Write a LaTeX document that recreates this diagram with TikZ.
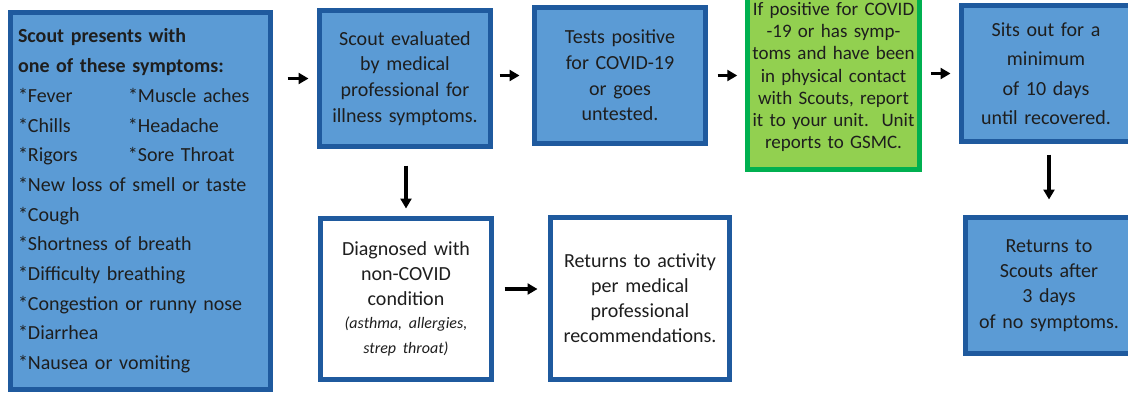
\documentclass[tikz,border=0pt]{standalone}
\usepackage{fontspec}
\setmainfont{Carlito}
\usepackage{tikz}
\usetikzlibrary{arrows.meta, positioning}

\definecolor{boxblue}{HTML}{5B9BD5}
\definecolor{edgeblue}{HTML}{1F5A9E}
\definecolor{boxgreen}{HTML}{92D050}
\definecolor{edgegreen}{HTML}{00B050}
\definecolor{inktext}{HTML}{1E1E1E}

\begin{document}
\begin{tikzpicture}[x=1pt, y=-1pt]
    \tikzstyle{bluebox} = [rectangle, draw=edgeblue, line width=5pt, fill=boxblue, text=inktext, align=center, inner sep=4pt]
    \tikzstyle{whitebox} = [rectangle, draw=edgeblue, line width=5pt, fill=white, text=inktext, align=center, inner sep=4pt]
    \tikzstyle{greenbox} = [rectangle, draw=edgegreen, line width=5.5pt, fill=boxgreen, text=inktext, align=center, inner sep=4pt]
    \tikzstyle{arrow} = [line width=3.5pt, -{Triangle[length=10pt,width=11pt]}]

    \useasboundingbox (0,0) rectangle (1128,394);

    \node (symptoms) [bluebox, align=left, text width=245pt, inner xsep=7.5pt, minimum height=377pt,
        font=\fontsize{20}{29.7}\selectfont] at (140.5,201)
        {\textbf{Scout presents with}\\
         \textbf{one of these symptoms:}\\
         \makebox[110pt][l]{*Fever}*Muscle aches\\
         \makebox[110pt][l]{*Chills}*Headache\\
         \makebox[110pt][l]{*Rigors}*Sore Throat\\
         {*}New loss of smell or taste\\
         {*}Cough\\
         {*}Shortness of breath\\
         {*}Difficulty breathing\\
         {*}Congestion or runny nose\\
         {*}Diarrhea\\
         {*}Nausea or vomiting};
    \node (evaluated) [bluebox, minimum width=171pt, minimum height=136pt, text width=162pt,
        font=\fontsize{20}{25.8}\selectfont] at (405,78.5)
        {Scout evaluated\\ by medical\\ professional for\\ illness symptoms.};
    \node (tests) [bluebox, minimum width=171pt, minimum height=136pt, text width=162pt,
        font=\fontsize{20}{25.7}\selectfont] at (620,75.5)
        {Tests positive\\ for COVID-19\\ or goes\\ untested.};
    \node (report) [greenbox, minimum width=172pt, minimum height=185pt, text width=164pt,
        font=\fontsize{19}{22.3}\selectfont] at (833.5,77)
        {If positive for COVID\\ -19 or has symp-\\ toms and have been\\ in physical contact\\ with Scouts, report\\ it to your unit.\ \ Unit\\ reports to GSMC.};
    \node (sitsout) [bluebox, minimum width=169pt, minimum height=136pt, text width=160pt,
        font=\fontsize{20}{29.5}\selectfont] at (1046,73.5)
        {Sits out for a\\ minimum\\ of 10 days\\ until recovered.};
    \node (diagnosed) [whitebox, minimum width=171pt, minimum height=161pt, text width=162pt,
        font=\fontsize{20}{25}\selectfont] at (406,299)
        {Diagnosed with\\ non-COVID\\ condition\\
         {\fontsize{16}{23}\selectfont\itshape (asthma, allergies,\\ strep throat)}};
    \node (activity) [whitebox, minimum width=179pt, minimum height=162pt, text width=170pt,
        font=\fontsize{20}{25}\selectfont] at (640,298.5)
        {Returns to activity\\ per medical\\ professional\\ recommendations.};
    \node (recovered) [bluebox, minimum width=167pt, minimum height=136pt, text width=160pt,
        font=\fontsize{20}{25.3}\selectfont] at (1049,285.5)
        {Returns to\\ Scouts after\\ 3 days\\ of no symptoms.};

    \draw [arrow, shorten <=14.5pt, shorten >=8.5pt] (symptoms.east |- evaluated.west) -- (evaluated.west);
    \draw [arrow, shorten <=6.5pt, shorten >=12.5pt] (evaluated.east |- tests.west) -- (tests.west);
    \draw [arrow, shorten <=9.5pt, shorten >=7.5pt] (tests.east) -- (tests.east -| report.west);
    \draw [arrow, shorten <=8.5pt, shorten >=8.5pt] (report.east |- sitsout.west) -- (sitsout.west);
    \draw [arrow, shorten <=16.5pt, shorten >=7.5pt] (diagnosed.north |- evaluated.south) -- (diagnosed.north);
    \draw [arrow, shorten <=10.5pt, shorten >=10.5pt] ([yshift=10pt]diagnosed.east) -- ([yshift=10pt]diagnosed.east -| activity.west);
    \draw [arrow, shorten <=10.5pt, shorten >=15.5pt] (recovered.north |- sitsout.south) -- (recovered.north);
\end{tikzpicture}
\end{document}
